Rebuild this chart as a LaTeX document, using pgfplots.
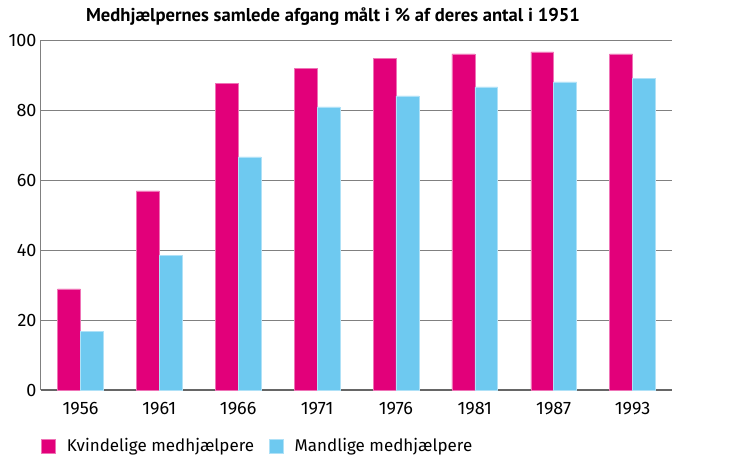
\documentclass[border=0pt]{standalone}
\usepackage{pgfplots}
\pgfplotsset{compat=1.18}
\usepackage{fontspec}
\setmainfont{Fira Sans}
\newfontfamily\titlefont{PT Sans}
\definecolor{kvinde}{HTML}{E2007A}
\definecolor{mand}{HTML}{6EC9F0}
\definecolor{gitter}{HTML}{808080}
\begin{document}
\begin{tikzpicture}
\begin{axis}[
  scale only axis, width=631pt, height=350pt,
  ybar=0pt, bar width=0.29,
  xmin=-0.5, xmax=7.5, ymin=0, ymax=100,
  xtick=data, xticklabels={1956,1961,1966,1971,1976,1981,1987,1993},
  ytick={0,20,...,100},
  major tick length=0pt,
  axis x line*=bottom, axis y line*=left,
  x axis line style={draw=gitter!80!black, line width=1.2pt},
  y axis line style={draw=gitter, line width=1pt},
  ymajorgrids, grid style={draw=gitter, line width=0.9pt},
  /pgf/number format/assume math mode=true,
  tick label style={font=\fontsize{18}{21}\selectfont},
  xticklabel style={yshift=-9pt},
  yticklabel style={xshift=-1pt},
  legend columns=2,
  legend style={at={(0,-56pt)}, anchor=west, draw=none, fill=none,
    font=\fontsize{17}{20}\selectfont, inner sep=0pt,
    nodes={inner xsep=0pt},
    /tikz/every odd column/.append style={column sep=11pt},
    /tikz/every even column/.append style={column sep=15pt}},
  legend image code/.code={\fill[#1] (0pt,-7pt) rectangle (14pt,7pt);},
  clip=false,
]
\addplot[fill=kvinde, draw=kvinde!55!white, line width=0.6pt] coordinates {
  (0,28.9) (1,56.9) (2,87.7) (3,91.9) (4,94.8) (5,96.0) (6,96.6) (7,96.0)};
\addplot[fill=mand, draw=mand!55!white, line width=0.6pt] coordinates {
  (0,16.7) (1,38.5) (2,66.6) (3,80.9) (4,84.0) (5,86.6) (6,88.0) (7,89.1)};
\legend{Kvindelige medhjælpere, Mandlige medhjælpere}
\end{axis}
\node[font=\titlefont\bfseries\fontsize{18.6}{21}\selectfont] at (292pt,373pt) {Medhjælpernes samlede afgang målt i \% af deres antal i 1951};
\path (-41pt,-84pt) rectangle (704pt,390pt);
\end{tikzpicture}
\end{document}
